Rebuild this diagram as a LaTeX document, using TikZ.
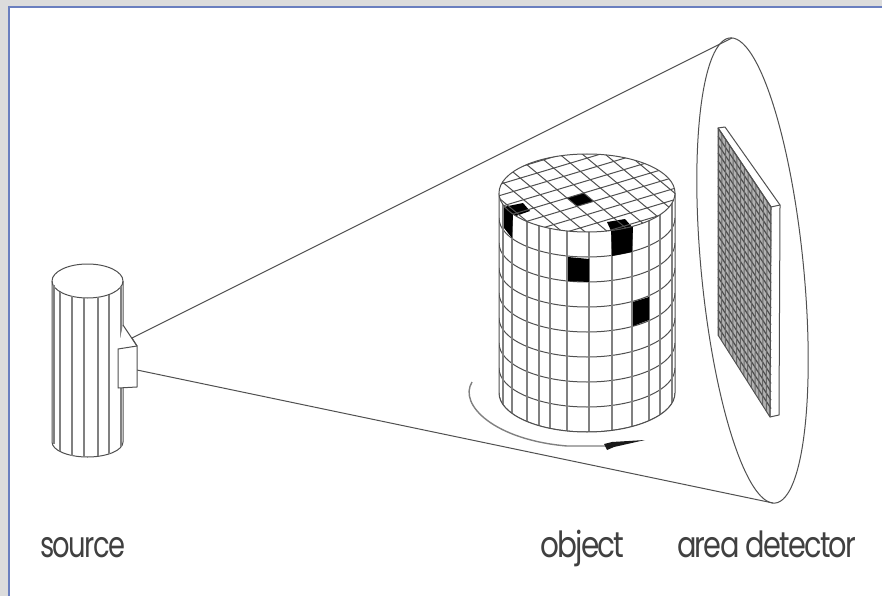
\documentclass[tikz,border=0pt]{standalone}
\usepackage{fontspec}
\setmainfont{TeX Gyre Heros}
\newfontfamily\labelfont[LetterSpace=-6]{Poppins}
\definecolor{framegray}{HTML}{DCDCDC}
\definecolor{frameblue}{HTML}{6A7FBF}
\definecolor{inkgray}{HTML}{505050}
\tikzset{
  ink/.style={draw=inkgray,line width=1pt,line join=round},
  gridline/.style={draw=inkgray,line width=1pt},
  vline/.style={draw=black!50,line width=1.5pt},
  label/.style={inner sep=0pt,font=\labelfont\fontsize{36}{36}\selectfont,text=black!75,anchor=base west}
}
\begin{document}
\begin{tikzpicture}[x=1pt,y=-1pt]
\useasboundingbox (0,0) rectangle (882,596);
\fill[framegray] (0,0) rectangle (882,596);
\fill[white] (9,7) rectangle (882,596);
\draw[frameblue,line width=2pt] (9,596) -- (9,7) -- (882,7);
% beam
\coordinate (beamA) at (132,338);
\coordinate (beamB) at (137,370);
\coordinate (detTop) at (732,38);
\coordinate (detBot) at (773,503);
\draw[ink] (beamA) -- (detTop);
\draw[ink] (beamB) -- (detBot);
% detector ellipse
\draw[ink,smooth,samples=120,domain=0:360] plot ({752.5+233.5*sin(\x)*(-0.0878)+52*cos(\x)*0.9961},{270.5-233.5*sin(\x)*0.9961+52*cos(\x)*0.0878});
% detector panel
\fill[white] (718,128) -- (725,127) -- (780,205) -- (779,415) -- (770,417) -- (718,335) -- cycle;
\draw[ink] (718,128) -- (725,127) -- (780,205) -- (779,415) -- (770,417);
\draw[ink] (771,207) -- (780,205);
\fill[gray!60] (718,128) -- (771,207) -- (770,417) -- (718,335) -- cycle;
\foreach \i in {0,...,24}{
  \draw[black!70,line width=1.2pt] ({718},{128+\i*8.28}) -- ({771},{207+\i*8.4});
}
\foreach \i in {0,...,14}{
  \draw[black!60,line width=1pt] ({718+\i*3.78},{128+\i*5.64}) -- ({718+\i*3.71},{335+\i*5.86});
}
\draw[ink] (718,128) -- (771,207) -- (770,417) -- (718,335) -- cycle;
% source cylinder
\draw[ink,fill=white] (52,281) -- (52,442) arc[start angle=180,end angle=0,x radius=35.5,y radius=15] -- (123,281);
\draw[ink] (87.5,281) ellipse[x radius=35.5,y radius=17];
\foreach \xx/\yt/\yb in {60/292/451,72/296/455.5,84/298/457,98/297/456,109/295/454}{
  \draw[vline] (\xx,\yt) -- (\xx,\yb);
}
\draw[vline] (54,285) -- (54,444);
\draw[vline] (121,286) -- (121,447);
% source nozzle
\coordinate (nozA) at (123,325);
\fill[white] (123,325) -- (137,346) -- (118,349) -- cycle;
\draw[ink] (123,325) -- (137,346);
\draw[ink,fill=white] (118,349) -- (137,346) -- (137,387) -- (118,388) -- cycle;
\draw[ink] (beamA) -- (137,346);
% object cylinder side
\begin{scope}
\clip (499,193) -- (499,393) arc[start angle=180,end angle=0,x radius=88,y radius=39] -- (675,193) -- cycle;
\foreach \cy in {218,243,...,393}{
  \draw[gridline] (499,\cy) arc[start angle=180,end angle=0,x radius=88,y radius=39];
}
\foreach \xx in {503,512,527,539,550,567,589,612,632,649,660,672}{
  \draw[vline] (\xx,193) -- (\xx,440);
}
\end{scope}
\draw[ink] (499,193) -- (499,393) arc[start angle=180,end angle=0,x radius=88,y radius=39] -- (675,193);
% black cells on side
\fill[black] (568,257) -- (589,259) -- (589,282) -- (568,281) -- cycle;
\fill[black] (633,302) -- (649,297) -- (649,320) -- (633,326) -- cycle;
\fill[black] (611,228) -- (633,226) -- (632,252) -- (612,256) -- cycle;
\fill[black] (504,207) -- (513,214) -- (512,238) -- (504,228) -- cycle;
% top cap
\fill[white] (587,193) ellipse[x radius=88,y radius=39];
\begin{scope}
\clip (587,193) ellipse[x radius=88,y radius=39];
\fill[black] (567,198) -- (583.7,193) -- (593.7,201.3) -- (577,206.3) -- cycle;
\fill[black] (503,207) -- (523,203) -- (530,211) -- (513,217) -- cycle;
\fill[black] (607,222) -- (625,219) -- (633,228) -- (612,233) -- cycle;
\foreach \i in {-8,...,8}{
  \draw[gridline] ({567+\i*10-16.7*8},{198+\i*8.3+5*8}) -- ({567+\i*10+16.7*8},{198+\i*8.3-5*8});
  \draw[gridline] ({567+\i*16.7-10*8},{198-\i*5-8.3*8}) -- ({567+\i*16.7+10*8},{198-\i*5+8.3*8});
}
\end{scope}
\draw[ink] (587,193) ellipse[x radius=88,y radius=39];
% rotation arrow
\coordinate (rotA) at (472,382);
\coordinate (rotB) at (606,446);
\draw[draw=black!50,line width=1.4pt] (rotA) .. controls (458,405) and (495,440) .. (567,446) -- (rotB);
\fill[black!90] (604,444) -- (612,442) -- (645,440) -- (614,447) -- (607,450) -- cycle;
% labels
\node[label] (src) at (40,557) {\scalebox{0.76}[1]{source}};
\node[label] (obj) at (540,557) {\scalebox{0.82}[1]{object}};
\node[label] (det) at (677,557) {\scalebox{0.80}[1]{area detector}};
\end{tikzpicture}
\end{document}
